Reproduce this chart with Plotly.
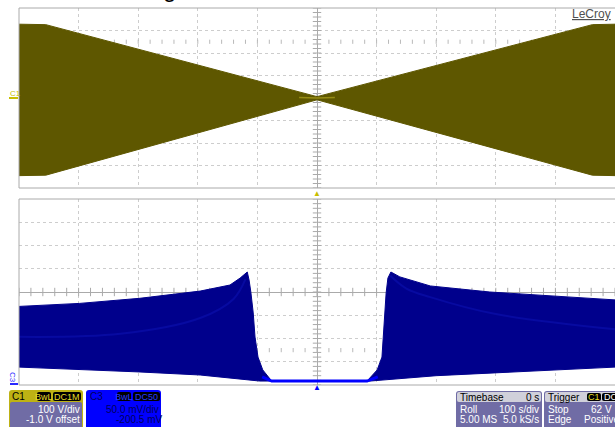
import numpy as np
import plotly.graph_objects as go

W, H = 615, 427

# ---------------- data (divisions) ----------------
# Channel 1 (top panel) envelope, time in divisions, amplitude in divisions
c1_time = [-5.0, -4.55, 0.0, 4.62, 5.0]
c1_upper = [3.28, 3.26, 0.06, 3.26, 3.28]
c1_lower = [-3.45, -3.43, -0.08, -3.43, -3.45]

# Channel 3 (bottom panel) envelope
c3_time_upper = [-5.0, -3.98, -2.97, -1.96, -1.46, -1.29, -1.17, -1.14, -1.11, -1.07,
                 -1.04, -0.99, -0.91, -0.76, 0.84, 1.01, 1.09, 1.12, 1.16, 1.19,
                 1.24, 1.39, 1.90, 2.90, 3.91, 5.0]
c3_upper = [-0.62, -0.49, -0.27, 0.04, 0.30, 0.60, 0.86, 0.52, 0.00, -0.90,
            -1.94, -2.80, -3.35, -3.83, -3.83, -3.35, -2.80, -1.50, -0.04, 0.60,
            0.86, 0.65, 0.26, 0.00, -0.17, -0.34]
c3_time_lower = [-5.0, -2.97, -1.96, -0.96, 0.89, 2.0, 3.35, 5.0]
c3_lower = [-3.23, -3.44, -3.57, -3.83, -3.83, -3.60, -3.44, -3.23]

# brighter (persistence) bands inside channel 3
band_l_time = [-5.0, -3.3, -1.96, -1.4, -1.2]
band_l = [-1.93, -1.80, -1.12, -0.30, 0.55]
band_r_time = [1.23, 1.5, 1.9, 3.0, 5.0]
band_r = [0.70, 0.15, -0.22, -0.95, -1.60]
floor_time = [-0.92, -0.76, 0.84, 1.02]
floor_val = [-3.65, -3.83, -3.83, -3.65]

C1_FILL = "rgb(94,87,0)"
C3_FILL = "rgb(0,0,140)"
GRID = "rgb(205,205,205)"
AXIS = "rgb(170,170,170)"
FONT = "Liberation Sans, Arial, sans-serif"


def px(x):
    return x / W


def py(y):
    return 1 - y / H


fig = go.Figure()

# ---------------- graticule decorations ----------------
ticks_x = np.round(np.arange(-5, 5.001, 0.2), 3)
ticks_y = np.round(np.arange(-4, 4.001, 0.2), 3)
for xa, ya, dot_row in (("x", "y", 2.5), ("x2", "y2", -2.5)):
    fig.add_trace(go.Scatter(x=ticks_x, y=[0] * len(ticks_x), xaxis=xa, yaxis=ya, mode="markers",
                             marker=dict(symbol="line-ns", size=6, line=dict(color=AXIS, width=1)),
                             hoverinfo="skip", showlegend=False))
    fig.add_trace(go.Scatter(x=[0] * len(ticks_y), y=ticks_y, xaxis=xa, yaxis=ya, mode="markers",
                             marker=dict(symbol="line-ew", size=6, line=dict(color=AXIS, width=1)),
                             hoverinfo="skip", showlegend=False))
    fig.add_trace(go.Scatter(x=ticks_x, y=[dot_row] * len(ticks_x), xaxis=xa, yaxis=ya, mode="markers",
                             marker=dict(symbol="line-ns", size=3, line=dict(color="rgb(185,185,185)", width=1)),
                             hoverinfo="skip", showlegend=False))

# ---------------- traces ----------------
fig.add_trace(go.Scatter(x=c1_time + c1_time[::-1], y=c1_upper + c1_lower[::-1],
                         xaxis="x", yaxis="y", mode="lines", fill="toself",
                         fillcolor=C1_FILL, line=dict(color=C1_FILL, width=1),
                         hoverinfo="skip", showlegend=False))
fig.add_trace(go.Scatter(x=[-0.3, 0, 0.3], y=[0.02, 0.0, 0.02], xaxis="x", yaxis="y", mode="lines",
                         line=dict(color="rgb(150,140,20)", width=1.5), hoverinfo="skip", showlegend=False))

fig.add_trace(go.Scatter(x=c3_time_upper + c3_time_lower[::-1], y=c3_upper + c3_lower[::-1],
                         xaxis="x2", yaxis="y2", mode="lines", fill="toself",
                         fillcolor=C3_FILL, line=dict(color=C3_FILL, width=1),
                         hoverinfo="skip", showlegend=False))
for bt, bv in ((band_l_time, band_l), (band_r_time, band_r)):
    fig.add_trace(go.Scatter(x=bt, y=bv, xaxis="x2", yaxis="y2", mode="lines",
                             line=dict(color="rgba(20,30,200,0.35)", width=2, shape="spline"),
                             hoverinfo="skip", showlegend=False))
fig.add_trace(go.Scatter(x=floor_time, y=floor_val, xaxis="x2", yaxis="y2", mode="lines",
                         line=dict(color="rgb(0,0,255)", width=3), hoverinfo="skip", showlegend=False))

# ---------------- axes ----------------
xdom = [px(19), 1.0]
ax_common = dict(showticklabels=False, ticks="", showgrid=True, gridcolor=GRID, griddash="dot",
                 gridwidth=1, zeroline=True, zerolinecolor=AXIS, zerolinewidth=1, showline=False,
                 fixedrange=True)
fig.update_layout(
    xaxis=dict(domain=xdom, range=[-5, 5], dtick=1, anchor="y", **ax_common),
    yaxis=dict(domain=[py(188), py(8)], range=[-4, 4], dtick=1, anchor="x", **ax_common),
    xaxis2=dict(domain=xdom, range=[-5, 5], dtick=1, anchor="y2", **ax_common),
    yaxis2=dict(domain=[py(385), py(199)], range=[-4, 4], dtick=1, anchor="x2", **ax_common),
)

shapes = []
for xr, yr in (("x domain", "y domain"), ("x2 domain", "y2 domain")):
    shapes.append(dict(type="rect", xref=xr, yref=yr, x0=0, x1=1.01, y0=0, y1=1,
                       line=dict(color=AXIS, width=1), layer="above"))


def rrect(x0, y0, x1, y1, r=3):
    pts = [("M", [(x0 + r, y0)]), ("L", [(x1 - r, y0)]), ("Q", [(x1, y0), (x1, y0 + r)]),
           ("L", [(x1, y1 - r)]), ("Q", [(x1, y1), (x1 - r, y1)]), ("L", [(x0 + r, y1)]),
           ("Q", [(x0, y1), (x0, y1 - r)]), ("L", [(x0, y0 + r)]), ("Q", [(x0, y0), (x0 + r, y0)])]
    s = ""
    for cmd, ps in pts:
        s += cmd + " " + " ".join(f"{px(a):.5f},{py(b):.5f}" for a, b in ps) + " "
    return s + "Z"


def box(x0, y0, x1, y1, color, r=3):
    shapes.append(dict(type="path", xref="paper", yref="paper", path=rrect(x0, y0, x1, y1, r),
                       fillcolor=color, line=dict(width=0), layer="above"))


PURPLE = "rgb(112,108,165)"
C1_HEAD = "rgb(190,178,20)"
HEAD_GRAY = "rgb(208,208,218)"

# C1 box
box(9, 390, 83, 440, C1_HEAD)
box(10, 402, 82, 440, PURPLE, 2)
box(37, 392, 51, 401, "black", 2)
box(53, 392, 81, 401, "black", 2)
# C3 box
box(86, 390, 161, 440, "rgb(0,0,255)")
box(117, 392, 131, 401, "black", 2)
box(133, 392, 160, 401, "black", 2)
# Timebase box
box(456, 391, 542, 440, PURPLE)
box(457, 392, 541, 402, HEAD_GRAY, 2)
# Trigger box
box(544, 391, 625, 440, PURPLE)
box(545, 392, 624, 402, HEAD_GRAY, 2)
box(587, 393, 601, 401, "black", 2)
box(602, 393, 620, 401, "black", 2)

# channel marker lines
shapes.append(dict(type="line", xref="paper", yref="paper", x0=px(9), x1=px(18), y0=py(98), y1=py(98),
                   line=dict(color="rgb(200,190,0)", width=2)))
shapes.append(dict(type="line", xref="paper", yref="paper", x0=px(10), x1=px(18), y0=py(384), y1=py(384),
                   line=dict(color="rgb(40,40,255)", width=2)))
fig.update_layout(shapes=shapes)

ann = []


def text(x, y, s, color="white", size=10, xanchor="left", yanchor="middle", angle=0, family=FONT):
    ann.append(dict(x=px(x), y=py(y), xref="paper", yref="paper", text=s, showarrow=False,
                    xanchor=xanchor, yanchor=yanchor, textangle=angle,
                    font=dict(family=family, size=size, color=color), borderpad=0))


text(169, 3, "g", color="black", size=24, xanchor="center", yanchor="bottom")
text(612, 14, "<u>LeCroy</u>", color="rgb(80,80,80)", size=12, xanchor="right")
text(9, 93, "C1", color="rgb(200,190,0)", size=8)
text(13, 377, "C3", color="rgb(40,40,255)", size=8, xanchor="center", angle=90)
text(317, 193, "▲", color="rgb(200,190,0)", size=8, xanchor="center")
text(317, 387, "▲", color="rgb(0,0,255)", size=8, xanchor="center")

# C1 box text
text(11, 396, "C1", color="black", size=10)
text(44, 396.5, "BwL", color="rgb(230,220,40)", size=9, xanchor="center")
text(67, 396.5, "DC1M", color="rgb(230,220,40)", size=9, xanchor="center")
text(81, 409, "100 V/div", size=10, xanchor="right")
text(81, 419, "-1.0 V offset", size=10, xanchor="right")
# C3 box text
text(89, 396, "C3", color="rgb(0,0,90)", size=10)
text(124, 396.5, "BwL", color="rgb(40,60,255)", size=9, xanchor="center")
text(146.5, 396.5, "DC50", color="rgb(40,60,255)", size=9, xanchor="center")
text(160, 409, "50.0 mV/div", color="rgb(0,0,90)", size=10, xanchor="right")
text(163, 419, "-200.5 mV", color="rgb(0,0,90)", size=10, xanchor="right")
# Timebase
text(459, 397, "Timebase", color="black", size=10)
text(540, 397, "0 s", color="black", size=10, xanchor="right")
text(459, 409, "Roll", size=10)
text(540, 409, "100 s/div", size=10, xanchor="right")
text(459, 419, "5.00 MS", size=10)
text(540, 419, "5.0 kS/s", size=10, xanchor="right")
# Trigger
text(547, 397, "Trigger", color="black", size=10)
text(594, 397, "C1", color="rgb(230,220,40)", size=9, xanchor="center")
text(603, 397, "DC", color="white", size=9)
text(547, 409, "Stop", size=10)
text(613, 409, "62 V", size=10, xanchor="right")
text(547, 419, "Edge", size=10)
text(583, 419, "Positive", size=10)

fig.update_layout(annotations=ann, width=W, height=H, margin=dict(l=0, r=0, t=0, b=0),
                  paper_bgcolor="white", plot_bgcolor="white", showlegend=False)

fig.write_html("out.html", config={"displayModeBar": False, "staticPlot": True},
               post_script="document.body.style.margin='0';document.body.style.overflow='hidden';")
